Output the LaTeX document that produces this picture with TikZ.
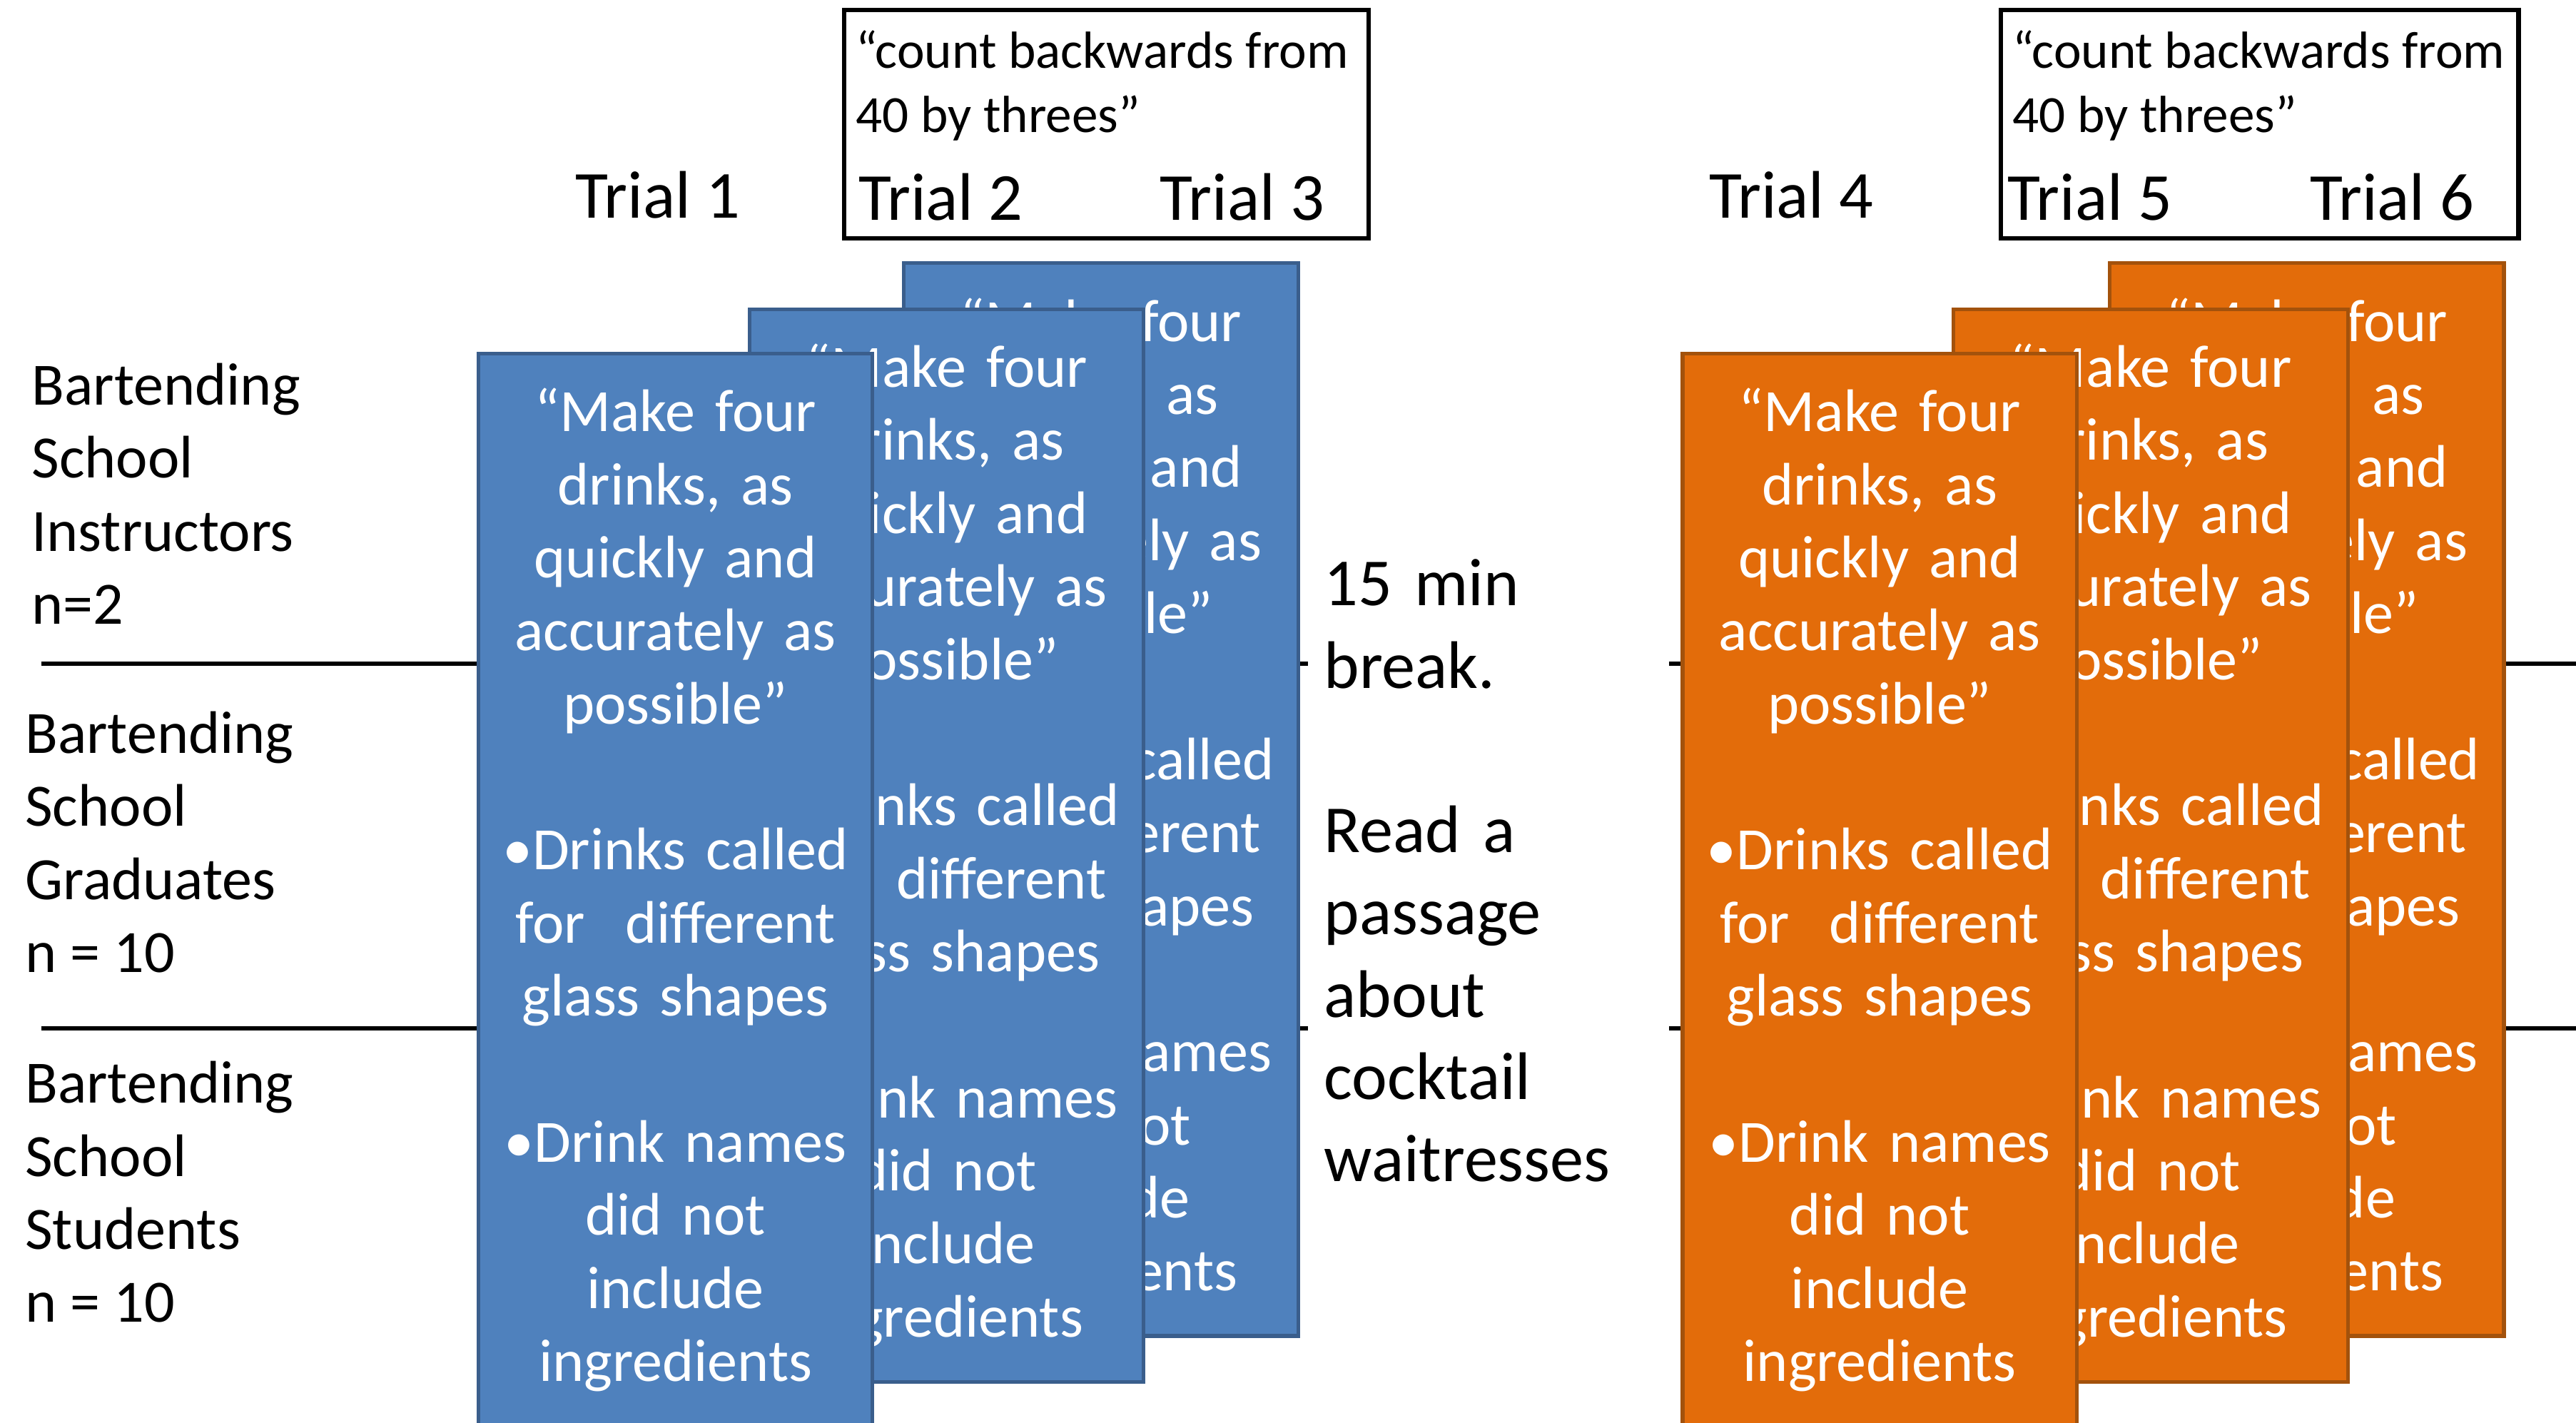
\documentclass[tikz,border=0pt]{standalone}
\usepackage{fontspec}
\setmainfont{Carlito}
\usetikzlibrary{positioning}

\definecolor{cardblue}{HTML}{4F81BD}
\definecolor{cardblueline}{HTML}{3A5E8C}
\definecolor{cardorange}{HTML}{E36C0A}
\definecolor{cardorangeline}{HTML}{A3520C}

\newcommand{\drinktask}{“Make four\\drinks, as\\quickly and\\accurately as\\possible”\\[\baselineskip]%
•Drinks called\\for\ \ different\\glass shapes\\[\baselineskip]%
•Drink names\\did not\\include\\ingredients}

\begin{document}
\begin{tikzpicture}[
  card/.style={draw, line width=1.3pt, minimum width=4.8cm, minimum height=13.06cm,
    text width=4.7cm, align=center, inner sep=0pt, anchor=north west, text=white,
    font=\fontsize{20.8}{25.3}\selectfont},
  bluecard/.style={card, fill=cardblue, draw=cardblueline},
  orangecard/.style={card, fill=cardorange, draw=cardorangeline},
  trial/.style={anchor=base west, inner sep=0pt, font=\fontsize{23.3}{28.5}\selectfont},
  group/.style={anchor=west, align=left, inner sep=0pt, font=\fontsize{20.8}{25.3}\selectfont},
  taskbox/.style={draw, line width=1.5pt, minimum height=2.78cm, inner sep=0pt},
  quote/.style={anchor=north west, align=left, inner sep=0pt, font=\fontsize{18.1}{22.3}\selectfont}
]
\useasboundingbox (0,0) rectangle (31.36,17.32);
% Group rows
\coordinate (rowA-l) at (0.5,9.24);
\coordinate (rowA-r) at (31.36,9.24);
\coordinate (rowB-l) at (0.5,4.80);
\coordinate (rowB-r) at (31.36,4.80);
\draw[line width=1.5pt] (rowA-l) -- (rowA-r);
\draw[line width=1.5pt] (rowB-l) -- (rowB-r);
% Participant groups
\node[group] (instr) at (0.38,11.31) {Bartending\\School\\Instructors\\n=2};
\node[group] (grad) at (0.30,7.07) {Bartending\\School\\Graduates\\n = 10};
\node[group] (stud) at (0.30,2.81) {Bartending\\School\\Students\\n = 10};
% Cards, back to front
\foreach \n/\x/\y in {3/10.98/14.14, 2/9.10/13.58, 1/5.80/13.04}
  \node[bluecard] (blue\n) at (\x,\y) {\drinktask};
\foreach \n/\x/\y in {6/25.66/14.14, 5/23.76/13.58, 4/20.46/13.04}
  \node[orangecard] (orange\n) at (\x,\y) {\drinktask};
% Break between blocks
\node[fill=white, inner xsep=0.2cm, inner ysep=0.1cm, text width=4.0cm, align=left,
  font=\fontsize{23.3}{28.5}\selectfont] (pause) at (18.12,6.72)
  {15 min\\break.\\[\baselineskip]Read a\\passage\\about\\cocktail\\waitresses};
% Counting task boxes
\node[taskbox, minimum width=6.38cm] (count1) at (13.47,15.81) {};
\node[taskbox, minimum width=6.30cm] (count2) at (27.51,15.81) {};
\node[quote] (q1) at ([shift={(0.16,-0.27)}]count1.north west) {“count backwards from\\40 by threes”};
\node[quote] (q2) at ([shift={(0.16,-0.27)}]count2.north west) {“count backwards from\\40 by threes”};
% Trial labels
\node[trial] (t1) at (7.0,14.67) {Trial 1};
\node[trial] (t2) at ([shift={(0.19,0.25)}]count1.south west) {Trial 2};
\node[trial] (t3) at ([shift={(3.86,0.25)}]count1.south west) {Trial 3};
\node[trial] (t4) at (20.8,14.67) {Trial 4};
\node[trial] (t5) at ([shift={(0.10,0.25)}]count2.south west) {Trial 5};
\node[trial] (t6) at ([shift={(3.78,0.25)}]count2.south west) {Trial 6};
\end{tikzpicture}
\end{document}
